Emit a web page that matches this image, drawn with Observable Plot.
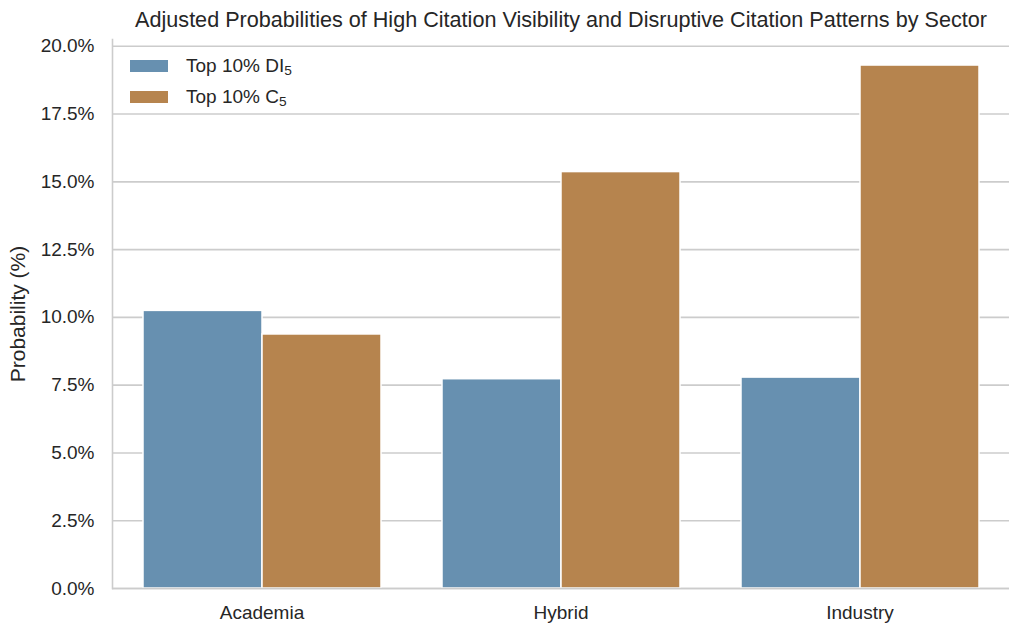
<!DOCTYPE html>
<html>
<head>
<meta charset="utf-8">
<script src="https://cdn.jsdelivr.net/npm/d3@7"></script>
<script src="https://cdn.jsdelivr.net/npm/@observablehq/plot@0.6"></script>
<style>
  body { margin: 0; background: #fff; font-family: "Liberation Sans", Arial, sans-serif; color: #262626; }
  #wrap { position: relative; width: 1024px; height: 636px; overflow: hidden; }
  #title { position: absolute; left: 112px; width: 898px; top: 0; height: 32px; text-align: center;
           font-size: 21.6px; line-height: 40px; color: #262626; white-space: nowrap; }
  #chart { position: absolute; left: 0; top: 32px; }
  #legend { position: absolute; left: 130px; top: 50px; font-size: 19px; color: #262626; }
  .item { display: flex; align-items: center; height: 31px; }
  .sw { width: 38px; height: 12px; margin-right: 18px; }
  .item sub { font-size: 0.72em; vertical-align: -0.2em; line-height: 0; }
  g[aria-label="y-axis label"] text { font-size: 21px; }
</style>
</head>
<body>
<div id="wrap">
  <div id="title">Adjusted Probabilities of High Citation Visibility and Disruptive Citation Patterns by Sector</div>
  <div id="chart"></div>
  <div id="legend"></div>
</div>
<script>
const sectors = ["Academia", "Hybrid", "Industry"];
const seriesKeys = ["DI5", "C5"];
const seriesBase = ["Top 10% DI", "Top 10% C"];
const seriesSub = ["5", "5"];
const di5 = [10.24, 7.72, 7.78];
const c5 = [9.37, 15.36, 19.29];
const yTicks = [0, 2.5, 5, 7.5, 10, 12.5, 15, 17.5, 20];
const colors = ["#6790b0", "#b6844e"];

const data = sectors.flatMap((s, i) => [
  { sector: s, series: seriesKeys[0], value: di5[i] },
  { sector: s, series: seriesKeys[1], value: c5[i] }
]);

const grey = "#cccccc";
const chart = Plot.plot({
  width: 1024,
  height: 604,
  marginTop: 7,
  marginBottom: 48,
  marginLeft: 111,
  marginRight: 15,
  style: { fontFamily: "'Liberation Sans', Arial, sans-serif", fontSize: "19px", color: "#262626", background: "white", overflow: "visible" },
  fx: { domain: sectors, padding: 0, label: null },
  x: { domain: seriesKeys, paddingInner: 0, paddingOuter: 0.25, axis: null },
  y: { domain: [0, 20.25] },
  color: { domain: seriesKeys, range: colors },
  marks: [
    Plot.gridY(yTicks, { stroke: grey, strokeOpacity: 1, strokeWidth: 1.6 }),
    Plot.barY(data, { fx: "sector", x: "series", y: "value", fill: "series", stroke: "white", strokeWidth: 1.5 }),
    Plot.ruleY([0], { stroke: grey, strokeWidth: 1.6 }),
    Plot.axisY(yTicks, {
      tickFormat: d => d.toFixed(1) + "%", tickSize: 0, tickPadding: 18,
      label: "Probability (%)", labelAnchor: "center", labelArrow: "none", labelOffset: 102
    }),
    Plot.axisFx({ anchor: "bottom", tickSize: 0, tickPadding: 17, label: null }),
    Plot.frame({ anchor: "left", facetAnchor: "left", stroke: grey, strokeWidth: 1.6 })
  ]
});
document.getElementById("chart").appendChild(chart);

const legend = document.getElementById("legend");
seriesKeys.forEach((k, i) => {
  const row = document.createElement("div");
  row.className = "item";
  row.innerHTML = `<span class="sw" style="background:${colors[i]}"></span><span>${seriesBase[i]}<sub>${seriesSub[i]}</sub></span>`;
  legend.appendChild(row);
});
</script>
</body>
</html>
